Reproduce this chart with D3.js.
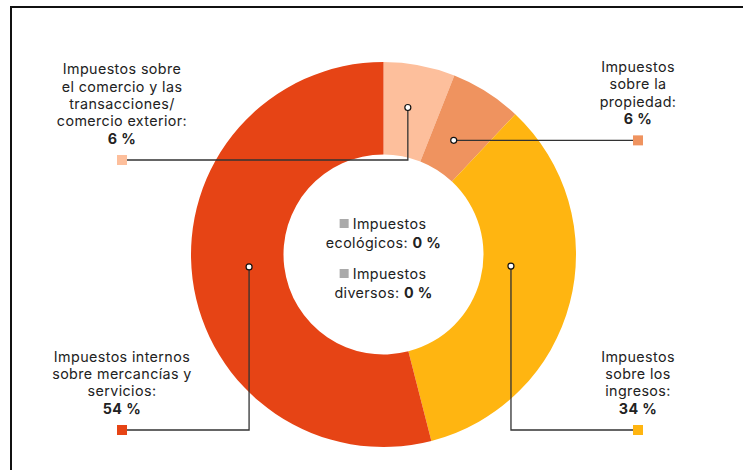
<!DOCTYPE html>
<html>
<head>
<meta charset="utf-8">
<script src="https://cdn.jsdelivr.net/npm/d3@7"></script>
<style>
  body { margin: 0; background: #fff; }
  svg { display: block; font-family: Inter, "Noto Sans", sans-serif; }
  text { letter-spacing: 0.4px; }
</style>
</head>
<body>
<svg id="chart" width="743" height="470"></svg>
<script>
// slice data, clockwise from 12 o'clock
const categories = [
    "Impuestos sobre el comercio y las transacciones/ comercio exterior",
    "Impuestos sobre la propiedad",
    "Impuestos sobre los ingresos",
    "Impuestos internos sobre mercancías y servicios",
    "Impuestos ecológicos",
    "Impuestos diversos"
];
const values = [6, 6, 34, 54, 0, 0];
const colors = ["#fdbf9c", "#ef935f", "#ffb511", "#e64415", "#aaaaaa", "#aaaaaa"];
// wrapped label text (last line is the bold value)
const labelLines = [
    ["Impuestos sobre", "el comercio y las", "transacciones/", "comercio exterior:"],
    ["Impuestos", "sobre la", "propiedad:"],
    ["Impuestos", "sobre los", "ingresos:"],
    ["Impuestos internos", "sobre mercancías y", "servicios:"]
];
const centerLines = [
    ["Impuestos", "ecológicos: "],
    ["Impuestos", "diversos: "]
];

// layout for the callouts: dot angle (deg) / radius, legend square position
const callouts = [
    {ang: 9.4, rad: 149, sx: 122, sy: 160},
    {ang: 31.6, rad: 134, sx: 638, sy: 141},
    {ang: 95.2, rad: 128, sx: 638, sy: 430},
    {ang: 264.7, rad: 135, sx: 122, sy: 430}
];

const svg = d3.select("#chart");
const cx = 383.5, cy = 254.5;
const outerR = 192.5, innerR = 100;
const fs = 14.3;

// frame (runs off the right / bottom edges)
svg.append("rect")
    .attr("x", 11).attr("y", 7)
    .attr("width", 800).attr("height", 600)
    .attr("fill", "none")
    .attr("stroke", "#111")
    .attr("stroke-width", 2);

const rows = categories.map((c, i) => ({name: c, value: values[i], color: colors[i], idx: i}));

const pie = d3.pie().sort(null).value(d => d.value);
const arc = d3.arc().innerRadius(innerR).outerRadius(outerR);

const g = svg.append("g").attr("transform", `translate(${cx},${cy})`);
g.selectAll("path")
    .data(pie(rows.filter(d => d.value > 0)))
    .enter()
    .append("path")
    .attr("d", arc)
    .attr("fill", d => d.data.color);

// callout lines + legend squares + labels
const lineColor = "#333";
callouts.forEach((c, i) => {
    const a = c.ang * Math.PI / 180;
    const dx = cx + c.rad * Math.sin(a);
    const dy = cy - c.rad * Math.cos(a);
    const sy = Math.abs(dy - c.sy) < 3 ? dy : c.sy;

    svg.append("path")
        .attr("d", d3.line()([[dx, dy], [dx, sy], [c.sx, sy]]))
        .attr("fill", "none")
        .attr("stroke", lineColor)
        .attr("stroke-width", 1.3);

    svg.append("circle")
        .attr("cx", dx).attr("cy", dy).attr("r", 3)
        .attr("fill", "#fff")
        .attr("stroke", "#111")
        .attr("stroke-width", 1.2);

    svg.append("rect")
        .attr("x", c.sx - 5).attr("y", sy - 5)
        .attr("width", 10).attr("height", 10)
        .attr("fill", colors[i]);

    const lines = labelLines[i];
    const lh = 17.3;
    const lastBase = sy - 16.5;
    const txt = svg.append("text")
        .attr("text-anchor", "middle")
        .attr("font-size", fs)
        .attr("fill", "#222");
    lines.forEach((l, k) => {
        txt.append("tspan")
            .attr("x", c.sx)
            .attr("y", lastBase - (lines.length - k) * lh)
            .text(l);
    });
    txt.append("tspan")
        .attr("x", c.sx)
        .attr("y", lastBase)
        .attr("font-weight", 700)
        .text(values[i] + " %");
});

// zero-value categories listed in the hole
const centerTops = [229, 279];
centerLines.forEach((lines, j) => {
    const i = 4 + j;
    const t1 = svg.append("text")
        .attr("text-anchor", "middle")
        .attr("font-size", fs)
        .attr("fill", "#222")
        .attr("x", cx + 6)
        .attr("y", centerTops[j])
        .text(lines[0]);
    const w = t1.node().getComputedTextLength();
    svg.append("rect")
        .attr("x", cx + 6 - w / 2 - 13).attr("y", centerTops[j] - 10)
        .attr("width", 9).attr("height", 9)
        .attr("fill", colors[i]);
    const t2 = svg.append("text")
        .attr("text-anchor", "middle")
        .attr("font-size", fs)
        .attr("fill", "#222")
        .attr("x", cx)
        .attr("y", centerTops[j] + 18.5);
    t2.append("tspan").text(lines[1]);
    t2.append("tspan").attr("font-weight", 700).text(values[i] + " %");
});
</script>
</body>
</html>
